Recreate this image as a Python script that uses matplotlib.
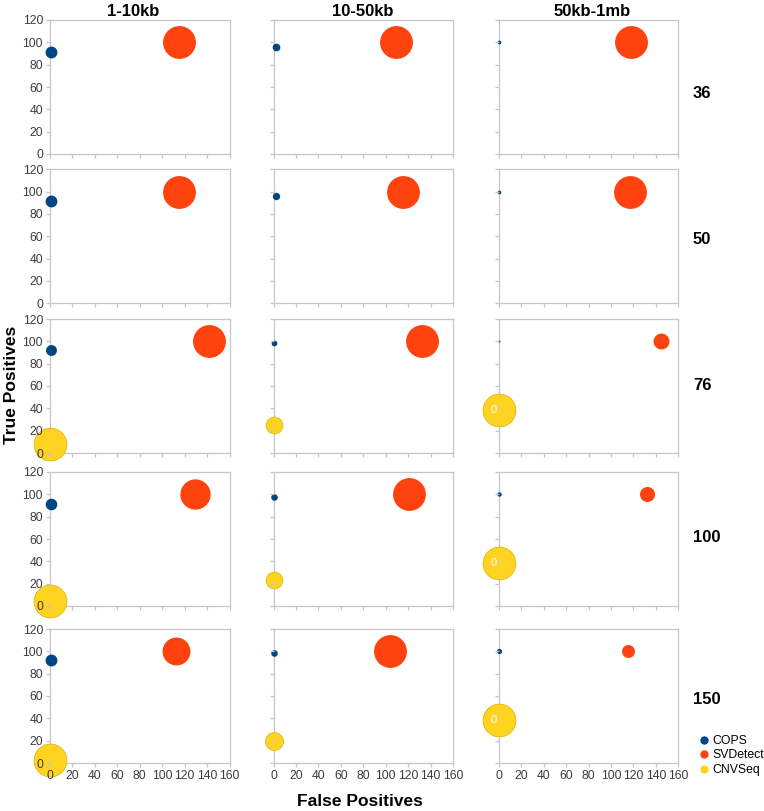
import matplotlib
matplotlib.use("Agg")
import matplotlib.pyplot as plt
from matplotlib.lines import Line2D

plt.rcParams["font.family"] = ["Liberation Sans", "DejaVu Sans"]

# bins (columns) and coverage (rows)
bins = ["1-10kb", "10-50kb", "50kb-1mb"]
coverage = ["36", "50", "76", "100", "150"]
methods = ["COPS", "SVDetect", "CNVSeq"]
colors = {"COPS": "#004586", "SVDetect": "#ff420e", "CNVSeq": "#ffd320"}

# false positives, rows = coverage, cols = bins
cops_fp = [[0.5, 2, 0], [0.5, 2, 0], [0.5, 0, 0], [0.5, 0, 0], [0.5, 0, 0]]
cops_tp = [[91.5, 96, 100], [92, 96, 100], [92, 98.5, 100], [91.5, 97.5, 100], [92, 98.5, 100]]
cops_size = [[13, 5.5, 1.3], [13, 5, 1.2], [11, 3, 0.4], [12.5, 4, 1.8], [13, 4, 2.5]]

svd_fp = [[115, 109, 118], [114.5, 115, 117], [141.5, 132.5, 145], [129, 121, 132.5], [112, 104, 115]]
svd_tp = [[100, 100, 100], [100, 100, 100], [100, 100, 100], [100, 100, 100], [100, 100, 100]]
svd_size = [[100, 100, 100], [100, 100, 100], [100, 100, 23.5], [85, 100, 21], [72, 100, 15.5]]

cnv_fp = [[None, None, None], [None, None, None], [0, 0, 0], [0, 0, 0], [0, 0, 0]]
cnv_tp = [[None, None, None], [None, None, None], [8.5, 25.5, 38.5], [4.5, 23.5, 38.5], [3, 20, 38.5]]
cnv_size = [[0, 0, 0], [0, 0, 0], [100, 26, 100], [100, 26, 100], [100, 30, 100]]

W, H = 764, 811
fig = plt.figure(figsize=(W / 100, H / 100), dpi=100)

col_left = [50, 273.5, 498.7]
col_w = 179.6
row_top = [20, 169.3, 319, 472, 629]
row_h = 134
grey = "#c6c6c6"
s_max = 560  # points^2 for the largest bubble

for r in range(len(coverage)):
    for c in range(len(bins)):
        ax = fig.add_axes([col_left[c] / W, 1 - (row_top[r] + row_h) / H, col_w / W, row_h / H])
        ax.set_xlim(0, 160)
        ax.set_ylim(0, 120)
        ax.set_xticks(range(0, 161, 20))
        ax.set_yticks(range(0, 121, 20))
        for sp in ax.spines.values():
            sp.set_color(grey)
            sp.set_linewidth(0.9)
            sp.set_zorder(1.5)
        ax.tick_params(colors=grey, labelcolor="#3d3d3d", labelsize=8.8, length=3, width=0.9, pad=2)
        ax.xaxis.set_zorder(3)
        ax.yaxis.set_zorder(3)
        if r != len(coverage) - 1:
            ax.tick_params(labelbottom=False)
        if c != 0:
            ax.tick_params(labelleft=False)

        ax.scatter([cops_fp[r][c]], [cops_tp[r][c]], s=s_max * cops_size[r][c] / 100,
                   color=colors["COPS"], linewidths=0, zorder=2, clip_on=False)
        ax.scatter([svd_fp[r][c]], [svd_tp[r][c]], s=s_max * svd_size[r][c] / 100,
                   color=colors["SVDetect"], linewidths=0, zorder=2, clip_on=False)
        if cnv_fp[r][c] is not None:
            ax.scatter([cnv_fp[r][c]], [cnv_tp[r][c]], s=s_max * cnv_size[r][c] / 100,
                       color=colors["CNVSeq"], edgecolors="#d9b000", linewidths=0.5,
                       zorder=2, clip_on=False)
            if c == 2:
                ax.text(cnv_fp[r][c] - 4.5, cnv_tp[r][c], "0", color="white", fontsize=8,
                        ha="center", va="center", zorder=4, clip_on=False)

# column titles
title_x = [133, 363, 592]
for c, b in enumerate(bins):
    fig.text(title_x[c] / W, 1 - 11 / H, b, ha="center", va="center",
             fontsize=12, fontweight="bold")

# row labels
label_y = [94, 240, 385, 538, 699]
for r, cov in enumerate(coverage):
    fig.text(693 / W, 1 - label_y[r] / H, cov, ha="left", va="center",
             fontsize=12, fontweight="bold")

fig.text(12 / W, 1 - 385 / H, "True Positives", rotation=90, ha="center", va="center",
         fontsize=12.5, fontweight="bold")
fig.text(360 / W, 1 - 801 / H, "False Positives", ha="center", va="center",
         fontsize=12.5, fontweight="bold")

handles = [Line2D([], [], marker="o", linestyle="none", markersize=6,
                  markerfacecolor=colors[m], markeredgewidth=0) for m in methods]
fig.legend(handles, methods, loc="upper left", bbox_to_anchor=(699 / W, 1 - 735 / H),
           frameon=False, fontsize=8.8, handlelength=0.8, handletextpad=0.3,
           labelspacing=0.2, borderpad=0, borderaxespad=0)

fig.savefig("out.png", dpi=100)
